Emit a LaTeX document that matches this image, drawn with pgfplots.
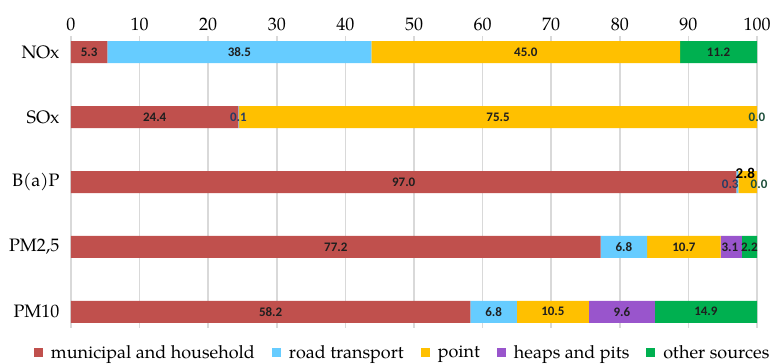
\documentclass[border=0pt]{standalone}
\usepackage{fontspec}
\usepackage{pgfplots}
\usepackage{pgfplotstable}
\pgfplotsset{compat=1.18}
\newfontfamily\carlito{Carlito}
\newfontfamily\pal{TeX Gyre Pagella}
\definecolor{cRed}{RGB}{192,80,77}
\definecolor{cBlue}{RGB}{102,204,255}
\definecolor{cYel}{RGB}{255,192,0}
\definecolor{cPur}{RGB}{153,85,204}
\definecolor{cGrn}{RGB}{0,176,80}
\definecolor{cDB}{RGB}{40,60,100}
\definecolor{cDG}{RGB}{30,80,60}
\pgfplotstableread{
cat mun road point heaps other
0 5.3 38.5 45.0 0 11.2
1 24.4 0.1 75.5 0 0.0
2 97.0 0.3 2.8 0 0.0
3 77.2 6.8 10.7 3.1 2.2
4 58.2 6.8 10.5 9.6 14.9
}\data
\pgfplotstableread{
x y l
2.65 0 5.3
24.55 0 38.5
66.3 0 45.0
94.4 0 11.2
12.2 1 24.4
62.25 1 75.5
48.5 2 97.0
38.6 3 77.2
80.6 3 6.8
89.35 3 10.7
96.05 3 3.1
98.9 3 2.2
29.1 4 58.2
61.6 4 6.8
70.25 4 10.5
80.3 4 9.6
92.55 4 14.9
}\labs
\pgfplotstableread{
x y l
98.3 1.86 2.8
}\labsK
\pgfplotstableread{
x y l
24.4 1 0.1
96.1 2.03 0.3
}\labsB
\pgfplotstableread{
x y l
100 1 0.0
100.3 2.03 0.0
}\labsG
\begin{document}
\begin{tikzpicture}
\pgfplotsset{common/.style={
  width=686pt, height=292pt, scale only axis,
  xmin=0, xmax=100, ymin=-0.25, ymax=4.25, y dir=reverse}}
\begin{axis}[common, name=ax,
  xbar stacked, bar width=22pt,
  xtick={0,10,...,100}, xticklabel pos=upper,
  ytick={0,1,2,3,4}, yticklabels={NOx,SOx,B(a)P,{PM2,5},PM10},
  xmajorgrids, grid style={draw={rgb,255:red,217;green,217;blue,217}, line width=1.5pt},
  axis line style={draw=none}, major tick length=0pt,
  /pgf/number format/assume math mode=true,
  xticklabel style={font=\pal\fontsize{18}{20}\selectfont, yshift=2pt},
  yticklabel style={font=\pal\fontsize{18}{20}\selectfont, xshift=-8pt},
  legend columns=5,
  legend style={draw=none, at={(0.4835,-0.045)}, anchor=north,
    font=\pal\fontsize{18}{20}\selectfont,
    /tikz/every even column/.append style={column sep=15pt},
    nodes={inner sep=2pt}},
  legend image code/.code={\fill[#1] (0pt,-4.5pt) rectangle (9pt,4.5pt); \path (15pt,0pt);},
]
\addplot[fill=cRed, draw=none] table[x=mun, y=cat]{\data};
\addplot[fill=cBlue, draw=none] table[x=road, y=cat]{\data};
\addplot[fill=cYel, draw=none] table[x=point, y=cat]{\data};
\addplot[fill=cPur, draw=none] table[x=heaps, y=cat]{\data};
\addplot[fill=cGrn, draw=none] table[x=other, y=cat]{\data};
\legend{municipal and household, road transport, point, heaps and pits, other sources}
\end{axis}
\begin{axis}[common, hide axis, clip=false,
  nodes near coords, point meta=explicit symbolic,
  every node near coord/.style={anchor=center, inner sep=0pt, font=\carlito\bfseries\fontsize{13}{15}\selectfont}]
\addplot[only marks, mark=none, nodes near coords, every node near coord/.append style={text=black!88}] table[x=x, y=y, meta=l]{\labs};
\addplot[only marks, mark=none, nodes near coords, every node near coord/.append style={text=black, font=\carlito\bfseries\fontsize{15}{17}\selectfont}] table[x=x, y=y, meta=l]{\labsK};
\addplot[only marks, mark=none, nodes near coords, every node near coord/.append style={text=cDB}] table[x=x, y=y, meta=l]{\labsB};
\addplot[only marks, mark=none, nodes near coords, every node near coord/.append style={text=cDG}] table[x=x, y=y, meta=l]{\labsG};
\end{axis}
\pgfresetboundingbox
\path ([xshift=-71pt,yshift=36pt]ax.north west) rectangle ([xshift=14pt,yshift=-36pt]ax.south east);
\end{tikzpicture}
\end{document}
